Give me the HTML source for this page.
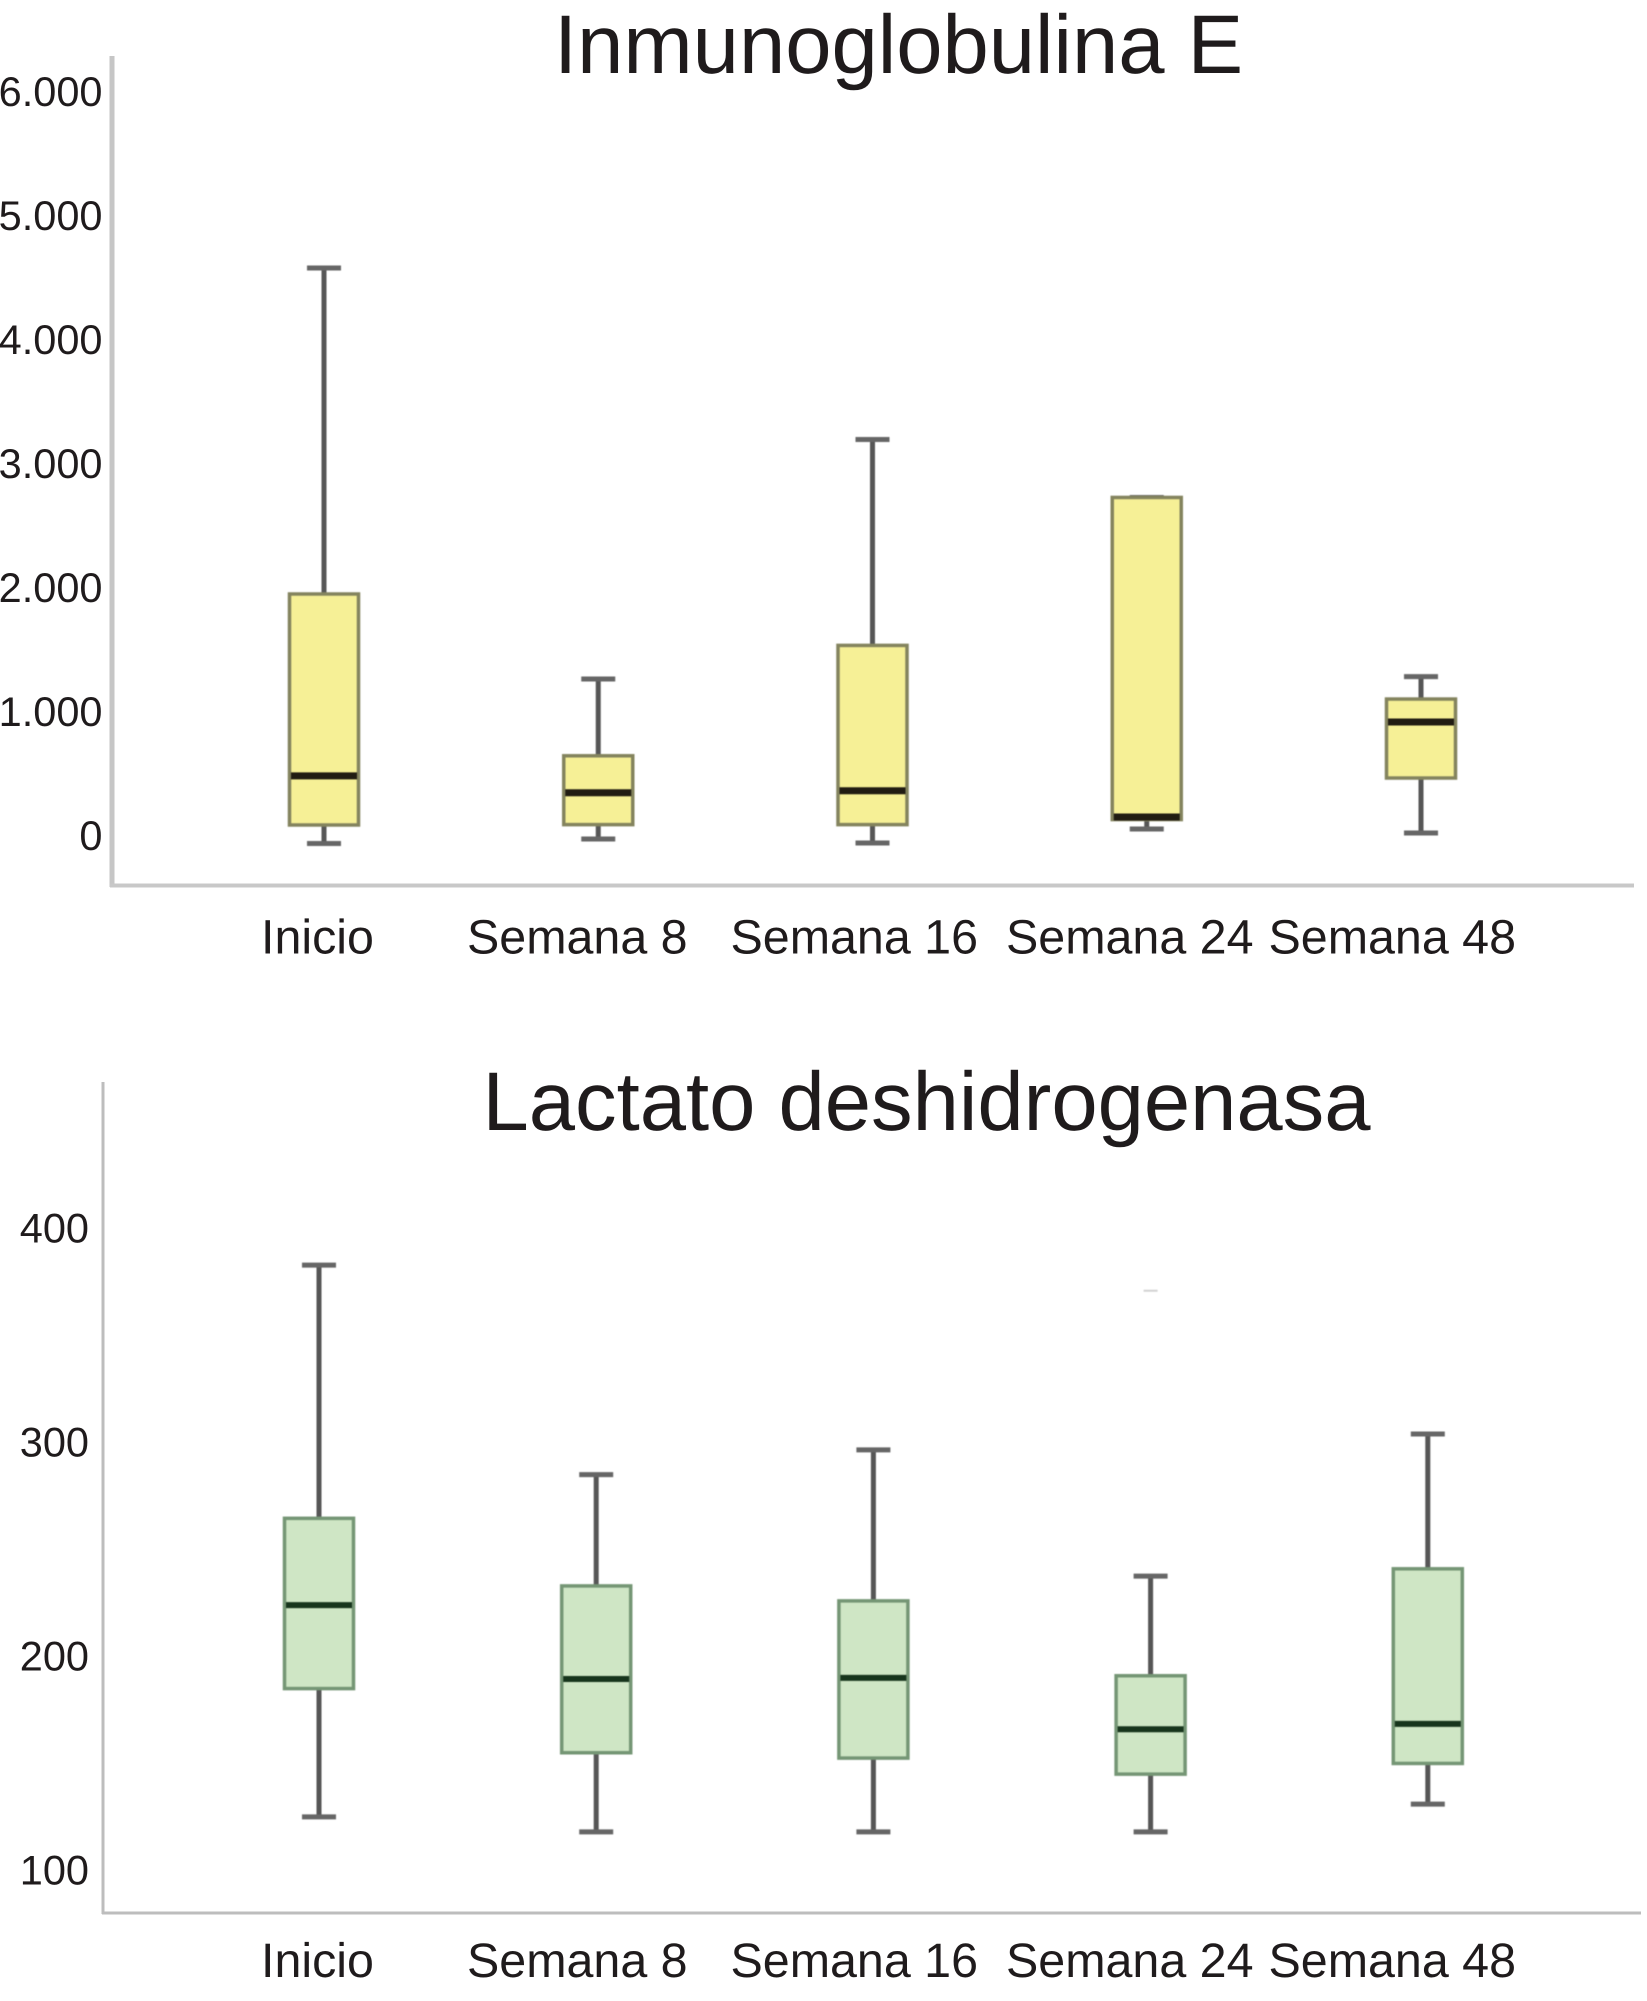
<!DOCTYPE html>
<html lang="es">
<head>
<meta charset="utf-8">
<title>Inmunoglobulina E y Lactato deshidrogenasa</title>
<style>
html,body{margin:0;padding:0;background:#fff;}
body{width:1647px;height:2001px;overflow:hidden;}
svg{display:block;}
text{font-family:"Liberation Sans",Arial,sans-serif;fill:#1f1b1c;text-rendering:geometricPrecision;}
.title{font-size:83.2px;}
.xl{font-size:48.4px;}
.yl{font-size:41.5px;text-anchor:end;}
.marks{filter:blur(0.6px);}
</style>
</head>
<body>
<svg id="figure" xmlns="http://www.w3.org/2000/svg" width="1647" height="2001" viewBox="0 0 1647 2001">
  <rect x="0" y="0" width="1647" height="2001" fill="#ffffff"/>

  <g id="ige-chart">
    <text class="title" x="554" y="73">Inmunoglobulina E</text>
    <line x1="112" y1="56" x2="112" y2="887" stroke="#c6c6c6" stroke-width="5"/>
    <line x1="110" y1="885.5" x2="1634" y2="885.5" stroke="#c8c8c8" stroke-width="4"/>
    <g id="ige-y-ticks"></g>
    <g id="ige-marks" class="marks"></g>
    <text class="xl" x="261" y="953.5">Inicio</text>
    <text class="xl" x="467" y="953.5">Semana 8</text>
    <text class="xl" x="730.5" y="953.5">Semana 16</text>
    <text class="xl" x="1006" y="953.5">Semana 24</text>
    <text class="xl" x="1268.5" y="953.5">Semana 48</text>
  </g>

  <g id="ldh-chart">
    <text class="title" x="482.5" y="1130">Lactato deshidrogenasa</text>
    <line x1="103" y1="1082" x2="103" y2="1914" stroke="#bdbdbd" stroke-width="3"/>
    <line x1="102" y1="1913" x2="1641" y2="1913" stroke="#bdbdbd" stroke-width="3"/>
    <g id="ldh-y-ticks"></g>
    <g id="ldh-marks" class="marks"></g>
    <text class="xl" x="261" y="1977">Inicio</text>
    <text class="xl" x="467" y="1977">Semana 8</text>
    <text class="xl" x="730.5" y="1977">Semana 16</text>
    <text class="xl" x="1006" y="1977">Semana 24</text>
    <text class="xl" x="1268.5" y="1977">Semana 48</text>
  </g>
</svg>

<script>
const categories = ['inicio', 'semana-8', 'semana-16', 'semana-24', 'semana-48'];

const igeTickValues = [0, 1000, 2000, 3000, 4000, 5000, 6000];
const igeTickLabels = ['0', '1.000', '2.000', '3.000', '4.000', '5.000', '6.000'];
const igeWhiskerLow = [-65, -28, -61, 53, 20];
const igeQ1 = [85, 88, 88, 129, 465];
const igeMedian = [482, 346, 362, 150, 918];
const igeQ3 = [1954, 645, 1538, 2735, 1104];
const igeWhiskerHigh = [4591, 1266, 3204, 2735, 1285];

const ldhTickValues = [100, 200, 300, 400];
const ldhTickLabels = ['100', '200', '300', '400'];
const ldhWhiskerLow = [125, 118, 118, 118, 131];
const ldhQ1 = [185, 155, 152.5, 145, 150];
const ldhMedian = [224, 189.5, 190, 166, 168.5];
const ldhQ3 = [264.6, 233, 226, 191, 241];
const ldhWhiskerHigh = [383, 285, 296.6, 237.6, 304];
const ldhFaintMark = [null, null, null, 371, null];

const SVG_NS = 'http://www.w3.org/2000/svg';

function igeY(v) { return 835.5 - v * 0.1236; }
function igeTickY(v) { return 835 - v * 0.124; }
function igeX(i) { return 324 + i * 274.25; }
function ldhY(v) { return 1870.4 - (v - 100) * 2.139; }
function ldhX(i) { return 319 + i * 277.2; }

function make(tag, attrs, parent) {
  const el = document.createElementNS(SVG_NS, tag);
  Object.keys(attrs).forEach(function (k) { el.setAttribute(k, attrs[k]); });
  parent.appendChild(el);
  return el;
}

function drawTicks(parent, prefix, values, labels, yFn, rightX, offset) {
  values.forEach(function (v, i) {
    const t = make('text', { 'class': 'yl', x: rightX, y: yFn(v) + offset }, parent);
    t.textContent = labels[i];
    
    
  });
}

function drawBoxes(parent, prefix, style, xFn, yFn, low, q1, med, q3, high) {
  categories.forEach(function (cat, i) {
    const cx = xFn(i);
    const g = make('g', {}, parent);
    
    

    const hi = make('line', { x1: cx, x2: cx, y1: yFn(high[i]), y2: yFn(q3[i]), stroke: style.whisker, 'stroke-width': 5 }, g);
    
    

    const lo = make('line', { x1: cx, x2: cx, y1: yFn(q1[i]), y2: yFn(low[i]), stroke: style.whisker, 'stroke-width': 5 }, g);
    
    

    const capHi = make('line', { x1: cx - 17, x2: cx + 17, y1: yFn(high[i]), y2: yFn(high[i]), stroke: style.cap, 'stroke-width': 5 }, g);
    
    

    const capLo = make('line', { x1: cx - 17, x2: cx + 17, y1: yFn(low[i]), y2: yFn(low[i]), stroke: style.cap, 'stroke-width': 5 }, g);
    
    

    const box = make('rect', {
      x: cx - 34.5, width: 69,
      y: yFn(q3[i]), height: yFn(q1[i]) - yFn(q3[i]),
      fill: style.fill, stroke: style.border, 'stroke-width': 3.5
    }, g);
    
    

    const m = make('line', { x1: cx - 33, x2: cx + 33, y1: yFn(med[i]), y2: yFn(med[i]), stroke: style.median, 'stroke-width': style.medianWidth }, g);
    
    
  });
}

const igeStyle = { fill: '#f6f096', border: '#84845e', whisker: '#565656', cap: '#666666', median: '#211c12', medianWidth: 7 };
const ldhStyle = { fill: '#cfe6c5', border: '#759675', whisker: '#565656', cap: '#666666', median: '#17351c', medianWidth: 6 };

drawTicks(document.getElementById('ige-y-ticks'), 'ige', igeTickValues, igeTickLabels, igeTickY, 102.5, 15);
drawTicks(document.getElementById('ldh-y-ticks'), 'ldh', ldhTickValues, ldhTickLabels, ldhY, 89, 14);

drawBoxes(document.getElementById('ige-marks'), 'ige', igeStyle, igeX, igeY, igeWhiskerLow, igeQ1, igeMedian, igeQ3, igeWhiskerHigh);
drawBoxes(document.getElementById('ldh-marks'), 'ldh', ldhStyle, ldhX, ldhY, ldhWhiskerLow, ldhQ1, ldhMedian, ldhQ3, ldhWhiskerHigh);

ldhFaintMark.forEach(function (v, i) {
  if (v === null) { return; }
  const mark = make('line', { x1: ldhX(i) - 7, x2: ldhX(i) + 7, y1: ldhY(v), y2: ldhY(v), stroke: '#d2d2d2', 'stroke-width': 2 }, document.getElementById('ldh-marks'));
  
  
});
</script>
</body>
</html>
